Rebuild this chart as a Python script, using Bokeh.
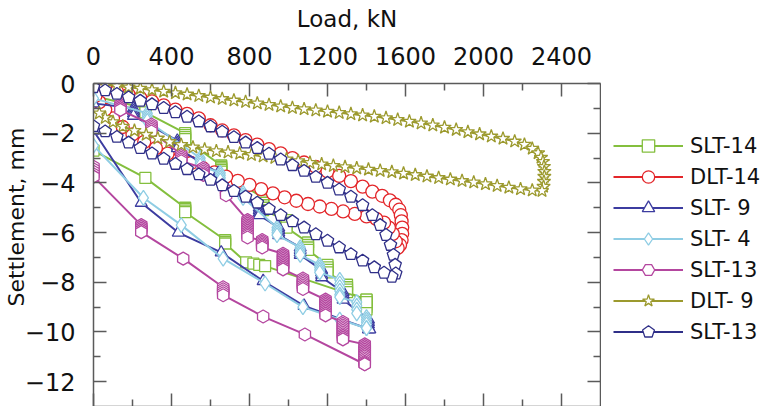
import math
from bokeh.plotting import figure
from bokeh.layouts import row
from bokeh.models import Range1d, LinearAxis, FixedTicker, Legend, LegendItem
from bokeh.embed import file_html
from bokeh.resources import INLINE

# ---------------- data (load kN, settlement mm) ----------------
# SLT-14 (green squares): lower branch (a) and hold-stage branch (b)
slt14_a_load = [0, 266, 470, 470, 470, 470, 675, 675, 675, 783, 820, 850, 880, 1400, 1400]
slt14_a_set = [-2.7, -3.8, -5.0, -5.06, -5.12, -5.18, -6.3, -6.37, -6.44, -7.2, -7.25, -7.3, -7.35, -8.7, -8.8]
slt14_b_load = [0, 266, 266, 266, 470, 470, 470, 470, 655, 655, 655, 655, 655, 870, 870, 870, 870, 870, 870,
                990, 990, 990, 990, 1100, 1100, 1100, 1100, 1200, 1200, 1200, 1200, 1300, 1300, 1300, 1300,
                1400, 1400, 1400, 1400, 1400]
slt14_b_set = [-0.5, -1.0, -1.08, -1.16, -2.0, -2.08, -2.16, -2.24, -3.3, -3.36, -3.42, -3.48, -3.55, -4.6,
               -4.7, -4.8, -4.9, -5.0, -5.1, -5.5, -5.6, -5.7, -5.8, -6.4, -6.5, -6.6, -6.7, -7.3, -7.4,
               -7.5, -7.6, -8.1, -8.2, -8.3, -8.4, -8.7, -8.8, -8.9, -9.0, -9.1]

# DLT-14 (red circles): loading, peak, unloading
dlt14_load = [0, 60, 120, 180, 240, 300, 360, 420, 480, 540, 600, 660, 720, 780, 840, 900, 960, 1020, 1080,
              1140, 1200, 1260, 1320, 1380, 1430, 1480, 1520, 1550, 1568, 1576, 1580, 1583, 1583, 1580, 1572,
              1560, 1550, 1535, 1515, 1490, 1450, 1400, 1340, 1280, 1220, 1160, 1100, 1040, 980, 920, 860,
              800, 740, 680, 620, 560, 500, 440, 380, 320, 260, 200, 150, 100, 60, 30, 10]
dlt14_set = [-0.1, -0.2, -0.32, -0.45, -0.58, -0.72, -0.88, -1.05, -1.22, -1.4, -1.68, -1.89, -2.09, -2.28,
             -2.46, -2.64, -2.81, -3.0, -3.18, -3.36, -3.54, -3.72, -3.93, -4.15, -4.35, -4.52, -4.7, -4.88,
             -5.08, -5.3, -5.55, -5.8, -6.05, -6.3, -6.5, -6.62, -6.35, -6.05, -5.8, -5.6, -5.45, -5.35,
             -5.25, -5.15, -5.05, -4.95, -4.85, -4.72, -4.58, -4.42, -4.25, -4.08, -3.92, -3.75, -3.58,
             -3.4, -3.2, -3.02, -2.82, -2.6, -2.35, -2.05, -1.75, -1.4, -1.05, -0.75, -0.5]

# SLT-9 (dark blue triangles)
slt9_a_load = [0, 245, 435, 655, 870, 1080, 1417]
slt9_a_set = [-1.9, -4.8, -6.0, -6.8, -7.95, -8.95, -9.9]
slt9_b_load = [0, 205, 205, 205, 205, 430, 430, 430, 430, 640, 640, 640, 640, 850, 850, 850, 850, 950, 950,
               950, 950, 1060, 1060, 1060, 1060, 1170, 1170, 1170, 1170, 1280, 1280, 1280, 1280, 1410, 1410,
               1410, 1410, 1410]
slt9_b_set = [-0.8, -1.0, -1.1, -1.2, -1.3, -2.3, -2.4, -2.5, -2.6, -3.6, -3.7, -3.8, -3.9, -5.0, -5.1,
              -5.2, -5.3, -5.8, -5.9, -6.0, -6.1, -6.6, -6.7, -6.8, -6.9, -7.5, -7.6, -7.7, -7.8, -8.4,
              -8.5, -8.6, -8.7, -9.5, -9.6, -9.7, -9.8, -9.9]

# SLT-4 (light blue diamonds)
slt4_a_load = [0, 256, 450, 665, 880, 1074, 1263, 1400]
slt4_a_set = [-2.5, -4.6, -5.7, -7.05, -8.05, -9.0, -9.5, -9.85]
slt4_b_load = [0, 276, 276, 276, 276, 547, 547, 547, 547, 650, 650, 650, 650, 767, 767, 767, 941, 941, 941,
               941, 1060, 1060, 1060, 1060, 1160, 1160, 1160, 1160, 1263, 1263, 1263, 1263, 1263, 1263,
               1350, 1350, 1350, 1350, 1400, 1400, 1400, 1400, 1400]
slt4_b_set = [-0.6, -1.2, -1.3, -1.4, -1.5, -3.0, -3.1, -3.2, -3.3, -3.6, -3.7, -3.8, -3.9, -4.4, -4.5,
              -4.6, -5.8, -5.9, -6.0, -6.1, -6.6, -6.7, -6.8, -6.9, -7.3, -7.4, -7.5, -7.6, -7.9, -8.05,
              -8.2, -8.35, -8.5, -8.6, -8.8, -8.95, -9.1, -9.25, -9.4, -9.5, -9.6, -9.7, -9.85]

# SLT-13 (magenta hexagons)
slt13_a_load = [0, 0, 0, 0, 0, 245, 245, 245, 245, 245, 460, 665, 665, 665, 665, 665, 870, 1084, 1391]
slt13_a_set = [-3.35, -3.45, -3.55, -3.65, -3.75, -5.7, -5.77, -5.84, -5.91, -5.98, -7.05, -8.2, -8.28,
               -8.36, -8.44, -8.52, -9.38, -10.1, -11.3]
slt13_b_load = [138, 138, 138, 138, 297, 297, 297, 297, 297, 450, 450, 450, 450, 450, 563, 563, 563, 563,
                563, 680, 680, 680, 790, 790, 790, 790, 790, 790, 790, 790, 790, 790, 790, 865, 865, 865,
                865, 865, 865, 972, 972, 972, 972, 972, 972, 972, 972, 972, 972, 1074, 1074, 1074, 1074,
                1074, 1074, 1074, 1190, 1190, 1190, 1190, 1190, 1190, 1190, 1190, 1190, 1190, 1279, 1279,
                1279, 1279, 1279, 1279, 1279, 1279, 1279, 1279, 1279, 1391, 1391, 1391, 1391, 1391, 1391,
                1391, 1391, 1391, 1391, 1391, 1391, 1391]
slt13_b_set = [-0.85, -0.92, -0.99, -1.06, -1.65, -1.72, -1.79, -1.86, -1.93, -2.85, -2.92, -2.99, -3.06,
               -3.13, -3.4, -3.47, -3.54, -3.61, -3.68, -4.3, -4.4, -4.5, -5.5, -5.57, -5.64, -5.71, -5.78,
               -5.85, -5.92, -5.99, -6.06, -6.13, -6.2, -6.3, -6.36, -6.42, -6.48, -6.54, -6.6, -6.85,
               -6.92, -6.99, -7.06, -7.13, -7.2, -7.27, -7.34, -7.41, -7.48, -7.85, -7.92, -7.99, -8.06,
               -8.13, -8.2, -8.27, -8.7, -8.77, -8.84, -8.91, -8.98, -9.05, -9.12, -9.19, -9.26, -9.33,
               -9.6, -9.67, -9.74, -9.81, -9.88, -9.95, -10.02, -10.09, -10.16, -10.23, -10.3, -10.5,
               -10.57, -10.64, -10.71, -10.78, -10.85, -10.92, -10.99, -11.06, -11.13, -11.2, -11.25,
               -11.3]

# DLT-9 (olive stars)
dlt9_load = [60, 120, 180, 240, 300, 360, 420, 480, 540, 600, 660, 720, 780, 840, 900, 960, 1020, 1080, 1140,
             1200, 1260, 1320, 1380, 1440, 1500, 1560, 1620, 1680, 1740, 1800, 1860, 1920, 1980, 2040, 2100,
             2160, 2210, 2250, 2280, 2295, 2305, 2310, 2312, 2312, 2310, 2308, 2300, 2250, 2190, 2130, 2070,
             2010, 1950, 1890, 1830, 1770, 1710, 1650, 1590, 1530, 1470, 1410, 1350, 1290, 1230, 1170, 1110,
             1050, 990, 930, 870, 810, 750, 690, 630, 570, 510, 450, 390, 330, 270, 210, 150, 100, 60, 30]
dlt9_set = [-0.05, -0.1, -0.15, -0.2, -0.26, -0.32, -0.38, -0.44, -0.5, -0.56, -0.62, -0.68, -0.74, -0.8,
            -0.86, -0.92, -0.98, -1.03, -1.08, -1.13, -1.18, -1.23, -1.28, -1.33, -1.39, -1.46, -1.53, -1.6,
            -1.68, -1.77, -1.86, -1.95, -2.04, -2.13, -2.22, -2.33, -2.46, -2.62, -2.8, -2.98, -3.15, -3.35,
            -3.55, -3.75, -3.95, -4.15, -4.32, -4.3, -4.25, -4.19, -4.12, -4.05, -3.98, -3.92, -3.86, -3.8,
            -3.74, -3.68, -3.62, -3.56, -3.51, -3.46, -3.41, -3.36, -3.31, -3.25, -3.19, -3.12, -3.05, -2.99,
            -2.93, -2.87, -2.82, -2.77, -2.72, -2.65, -2.57, -2.47, -2.35, -2.21, -2.06, -1.9, -1.73, -1.55,
            -1.38, -1.2]

# SLT-13 (navy pentagons): loading then return branch
slt13p_load = [0, 60, 120, 180, 240, 300, 360, 420, 480, 540, 600, 660, 720, 780, 840, 900, 960, 1020, 1080,
               1140, 1200, 1260, 1320, 1380, 1430, 1470, 1500, 1523, 1538, 1547, 1550, 1530, 1490, 1440, 1380,
               1320, 1260, 1200, 1140, 1080, 1020, 960, 900, 840, 780, 720, 660, 600, 540, 480, 420, 360, 300,
               240, 180, 120, 60, 0]
slt13p_set = [-0.15, -0.28, -0.42, -0.56, -0.7, -0.84, -0.99, -1.16, -1.34, -1.53, -1.73, -1.94, -2.16,
              -2.38, -2.6, -2.83, -3.06, -3.29, -3.52, -3.76, -4.0, -4.27, -4.56, -4.9, -5.3, -5.7, -6.1,
              -6.5, -6.9, -7.3, -7.65, -7.78, -7.62, -7.4, -7.13, -6.87, -6.6, -6.33, -6.07, -5.8, -5.55,
              -5.3, -5.05, -4.8, -4.56, -4.33, -4.1, -3.88, -3.66, -3.45, -3.24, -3.03, -2.82, -2.6, -2.38,
              -2.15, -1.93, -1.72]

series_names = ["SLT-14", "DLT-14", "SLT- 9", "SLT- 4", "SLT-13", "DLT- 9", "SLT-13"]
x_label = "Load, kN"
y_label = "\u00a0" * 8 + "Settlement, mm"
x_major_ticks = [0, 400, 800, 1200, 1600, 2000, 2400]
x_minor_ticks = [200, 600, 1000, 1400, 1800, 2200]
y_major_ticks = [0, -2, -4, -6, -8, -10, -12]
y_minor_ticks = [-1, -3, -5, -7, -9, -11]

# ---------------- main figure ----------------
FONT = "DejaVu Sans"
AX = "#5a5a5a"
p = figure(width=601, height=406, output_backend="svg", toolbar_location=None,
           x_range=Range1d(0, 2600), y_range=Range1d(-13.0, 0),
           x_axis_location="above", y_axis_location="left",
           min_border_left=93, min_border_right=1, min_border_top=83, min_border_bottom=0)
p.outline_line_color = None
p.xgrid.visible = False
p.ygrid.visible = False
p.background_fill_color = "white"
p.border_fill_color = "white"


def style_axis(ax):
    ax.axis_line_color = AX
    ax.axis_line_width = 1.5
    ax.major_tick_line_color = AX
    ax.minor_tick_line_color = AX
    ax.major_tick_line_width = 1.5
    ax.minor_tick_line_width = 1.5
    ax.major_tick_in = 13
    ax.major_tick_out = 0
    ax.minor_tick_in = 7
    ax.minor_tick_out = 0
    ax.major_label_text_font = FONT
    ax.major_label_text_font_size = "24px"
    ax.major_label_text_color = "#111111"
    ax.axis_label_text_font = FONT
    ax.axis_label_text_font_style = "normal"
    ax.axis_label_text_color = "#111111"


top = p.xaxis[0]
top.ticker = FixedTicker(ticks=x_major_ticks, minor_ticks=x_minor_ticks)
style_axis(top)
top.axis_label = x_label
top.axis_label_text_font_size = "23px"
top.major_label_standoff = 19
top.axis_label_standoff = 12

ly = p.yaxis[0]
ly.ticker = FixedTicker(ticks=y_major_ticks, minor_ticks=y_minor_ticks)
style_axis(ly)
ly.axis_label = y_label
ly.axis_label_text_font_size = "22px"
ly.major_label_standoff = 18
ly.axis_label_standoff = -7

# unlabelled tick-only axes on the right and bottom (long ticks, then short ticks)
for place, majors, minors in (("right", y_major_ticks, y_minor_ticks), ("below", x_major_ticks, x_minor_ticks)):
    for tks, tlen, show_line in ((majors, 13, True), (minors, 7, False)):
        ax = LinearAxis(ticker=FixedTicker(ticks=[], minor_ticks=tks))
        style_axis(ax)
        ax.minor_tick_in = tlen
        ax.major_label_standoff = 0
        if not show_line:
            ax.axis_line_color = None
        p.add_layout(ax, place)

GREEN = "#84BF3E"
RED = "#E3262A"
DBLUE = "#3C3CA0"
LBLUE = "#8FCDE4"
MAG = "#B4469F"
OLIVE = "#9C9A2E"
NAVY = "#2F2F88"

# ---------------- legend panel (separate, to the right of the frame) ----------------
# its ranges lie above every settlement value, so its renderers draw nothing but the legend
pl = figure(width=182, height=406, output_backend="svg", toolbar_location=None,
            x_range=Range1d(0, 1), y_range=Range1d(1, 2),
            x_axis_location=None, y_axis_location=None, min_border=0)
pl.outline_line_color = None
pl.xgrid.visible = False
pl.ygrid.visible = False
pl.background_fill_color = "white"
pl.border_fill_color = "white"

items = []


def draw_marks(fig, load, sett, color, marker, size, lw):
    ln = fig.line(load, sett, line_color=color, line_width=lw)
    if marker == "pentagon":
        sc = fig.ngon(load, sett, radius=size / 2.0, radius_units="screen", n=5,
                      line_color=color, fill_color="white", line_width=1.3)
    else:
        ang = math.pi / 2 if marker == "hex" else 0.0
        sc = fig.scatter(load, sett, marker=marker, size=size, angle=ang, line_color=color,
                         fill_color="white", line_width=1.3)
    return ln, sc


def add(load, sett, color, marker, size, lw, name=None):
    draw_marks(p, load, sett, color, marker, size, lw)
    if name is not None:
        ln, sc = draw_marks(pl, load, sett, color, marker, size, 2)
        items.append(LegendItem(label=name, renderers=[ln, sc]))


add(slt14_b_load, slt14_b_set, GREEN, "square", 11, 2)
add(slt14_a_load, slt14_a_set, GREEN, "square", 11, 2, series_names[0])
add(dlt14_load, dlt14_set, RED, "circle", 13, 2, series_names[1])
add(slt9_b_load, slt9_b_set, DBLUE, "triangle", 12, 2)
add(slt9_a_load, slt9_a_set, DBLUE, "triangle", 12, 2, series_names[2])
add(slt4_b_load, slt4_b_set, LBLUE, "diamond", 15, 2)
add(slt4_a_load, slt4_a_set, LBLUE, "diamond", 15, 2, series_names[3])
add(slt13_b_load, slt13_b_set, MAG, "hex", 13, 2)
add(slt13_a_load, slt13_a_set, MAG, "hex", 13, 2, series_names[4])
add(dlt9_load, dlt9_set, OLIVE, "star", 14, 2, series_names[5])
add(slt13p_load, slt13p_set, NAVY, "pentagon", 13, 2, series_names[6])

legend = Legend(items=items, location=(12, 59), orientation="vertical",
                label_text_font=FONT, label_text_font_size="21px", label_text_color="#111111",
                glyph_width=70, glyph_height=31, label_height=31, spacing=0, padding=0, margin=0,
                label_standoff=7, border_line_color=None, background_fill_alpha=0)
pl.add_layout(legend)

open("out.html", "w").write(file_html(row(p, pl), INLINE))
